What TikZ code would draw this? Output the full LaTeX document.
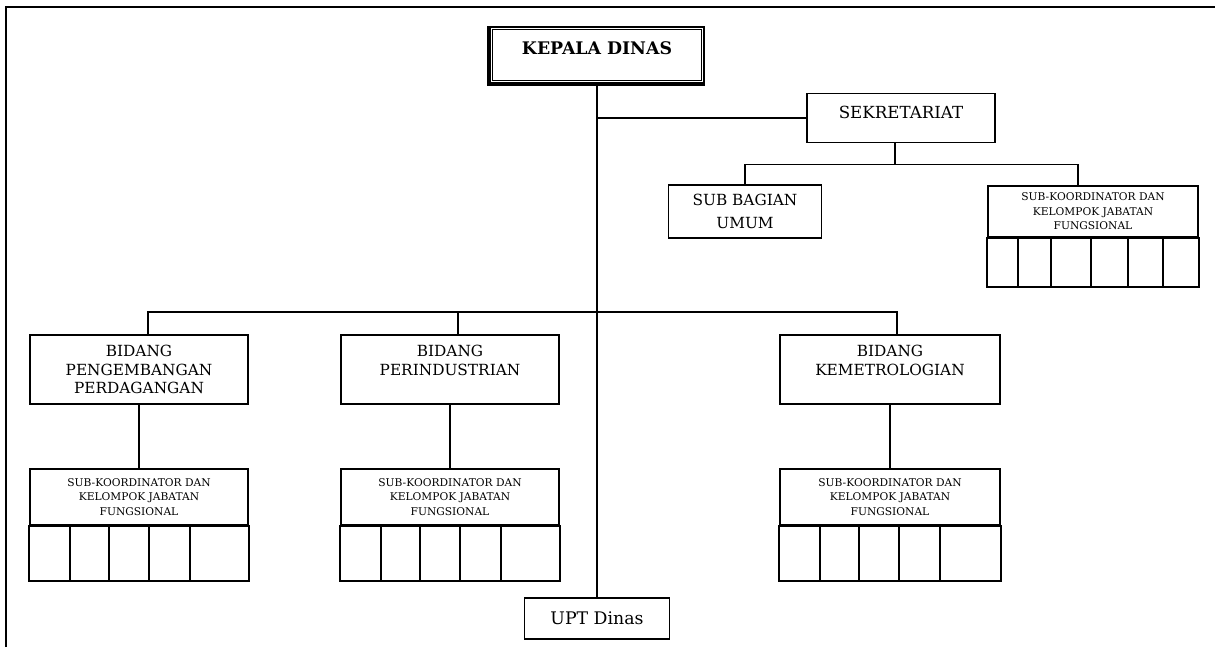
\documentclass[tikz,border=0pt]{standalone}
\usepackage{fontspec}
\setmainfont{DejaVu Serif}
\usetikzlibrary{positioning, calc}

\tikzset{
    unit/.style={draw, line width=1.4pt, fill=white, align=center, inner sep=0pt,
        font=\fontsize{11.5}{14}\selectfont},
    subgroup/.style={draw, line width=1.4pt, fill=white, align=center, inner sep=0pt,
        minimum height=42pt, font=\fontsize{8}{10.8}\selectfont},
    link/.style={line width=1.4pt}
}

\begin{document}
\begin{tikzpicture}[x=0.75pt, y=-0.75pt]
    \useasboundingbox (0,0) rectangle (1215,647);

    % Frame
    \draw[line width=1.6pt] (6,647) -- (6,7) -- (1215,7);

    % Head and secretariat
    \node[unit, minimum width=160.5pt, minimum height=42pt, text depth=10pt,
          font=\fontsize{13}{15}\selectfont\bfseries] (kepala) at (597,55) {KEPALA DINAS};
    \draw[line width=3pt] (kepala.north west) -- (kepala.south west) -- (kepala.south east);
    \draw[line width=0.6pt] ([xshift=2.5pt,yshift=-2.5pt]kepala.north west)
        rectangle ([xshift=-2.5pt,yshift=2.5pt]kepala.south east);
    \node[unit, minimum width=141pt, minimum height=36.75pt, text depth=9pt,
          font=\fontsize{12.5}{14}\selectfont] (sekretariat) at (901,118) {SEKRETARIAT};
    \node[unit, minimum width=114.75pt, minimum height=39.75pt] (subbag) at (745,211.5) {SUB BAGIAN\\[3pt]UMUM};
    \node[subgroup, minimum width=157.5pt, minimum height=38.25pt] (sktop) at (1093,211.5)
        {SUB-KOORDINATOR DAN\\KELOMPOK JABATAN\\FUNGSIONAL};

    % Fields
    \node[unit, minimum width=163.5pt, minimum height=51.75pt] (pengembangan) at (139,369.5)
        {BIDANG\\PENGEMBANGAN\\PERDAGANGAN};
    \node[unit, minimum width=163.5pt, minimum height=51.75pt] (perindustrian) at (450,369.5)
        {BIDANG\\PERINDUSTRIAN\\~};
    \node[unit, minimum width=165pt, minimum height=51.75pt] (kemetrologian) at (890,369.5)
        {BIDANG\\KEMETROLOGIAN\\~};

    \node[subgroup, minimum width=163.5pt, below=47.25pt of pengembangan] (sk1)
        {SUB-KOORDINATOR DAN\\KELOMPOK JABATAN\\FUNGSIONAL};
    \node[subgroup, minimum width=163.5pt, below=47.25pt of perindustrian] (sk2)
        {SUB-KOORDINATOR DAN\\KELOMPOK JABATAN\\FUNGSIONAL};
    \node[subgroup, minimum width=165pt, below=47.25pt of kemetrologian] (sk3)
        {SUB-KOORDINATOR DAN\\KELOMPOK JABATAN\\FUNGSIONAL};

    \node[unit, minimum width=108.75pt, minimum height=30.75pt, font=\fontsize{13}{15}\selectfont] (upt) at (597,618.5) {UPT Dinas};

    % Cells under the sub-coordinators
    \foreach \s in {sk1,sk2,sk3} {
        \draw[link] (\s.south west) rectangle ([yshift=-41.25pt]\s.south east);
        \foreach \d in {41,80,120,161}
            \draw[link] ($(\s.south west)+(\d,0)$) -- ++(0,55);
    }
    \draw[link] (sktop.south west) rectangle ([yshift=-36.75pt]sktop.south east);
    \foreach \d in {31,64,104,141,176}
        \draw[link] ($(sktop.south west)+(\d,0)$) -- ++(0,49);

    % Connectors
    \draw[link] (kepala.south) -- (kepala.south |- upt.north);
    \draw[link] (kepala.south |- sekretariat.west) -- (sekretariat.west);
    \draw[link] ([xshift=-4.5pt]sekretariat.south) -- ++(0,21) coordinate (sekbus);
    \draw[link] (subbag.north) |- (sekbus) -| ([xshift=-11.25pt]sktop.north);

    \coordinate (bidbus) at (597,312);
    \draw[link] ([xshift=6.75pt]pengembangan.north) |- (bidbus) -| ([xshift=5.25pt]kemetrologian.north);
    \draw[link] ([xshift=6pt]perindustrian.north) -- ([xshift=6pt]perindustrian.north |- bidbus);

    \draw[link] (pengembangan) -- (sk1);
    \draw[link] (perindustrian) -- (sk2);
    \draw[link] (kemetrologian) -- (sk3);
\end{tikzpicture}
\end{document}
